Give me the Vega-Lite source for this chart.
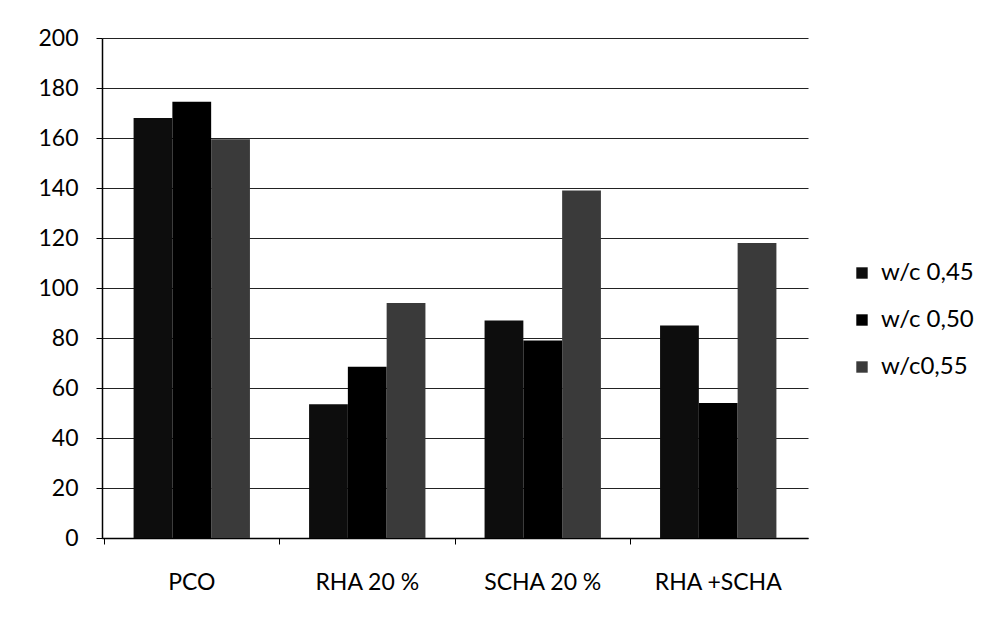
{
  "$schema": "https://vega.github.io/schema/vega-lite/v6.json",
  "width": 706,
  "height": 500,
  "autosize": {"type": "none"},
  "padding": {"left": 102, "top": 38, "right": 176, "bottom": 83},
  "background": "white",
  "config": {
    "view": {"stroke": null},
    "font": "Lato"
  },
  "data": {
    "values": [
      {"cat": "PCO", "series": "w/c 0,45", "value": 168},
      {"cat": "PCO", "series": "w/c 0,50", "value": 174.5},
      {"cat": "PCO", "series": "w/c0,55", "value": 159.5},
      {"cat": "RHA 20 %", "series": "w/c 0,45", "value": 53.5},
      {"cat": "RHA 20 %", "series": "w/c 0,50", "value": 68.5},
      {"cat": "RHA 20 %", "series": "w/c0,55", "value": 94},
      {"cat": "SCHA 20 %", "series": "w/c 0,45", "value": 87},
      {"cat": "SCHA 20 %", "series": "w/c 0,50", "value": 79},
      {"cat": "SCHA 20 %", "series": "w/c0,55", "value": 139},
      {"cat": "RHA +SCHA", "series": "w/c 0,45", "value": 85},
      {"cat": "RHA +SCHA", "series": "w/c 0,50", "value": 54},
      {"cat": "RHA +SCHA", "series": "w/c0,55", "value": 118}
    ]
  },
  "mark": {"type": "bar"},
  "encoding": {
    "x": {
      "field": "cat",
      "type": "nominal",
      "sort": null,
      "title": null,
      "scale": {"paddingInner": 0.337, "paddingOuter": 0.18},
      "axis": {
        "labelAngle": 0,
        "labelFontSize": 23,
        "labelColor": "#000",
        "labelPadding": 27,
        "domainColor": "#000",
        "domainWidth": 1.5,
        "tickColor": "#000",
        "tickSize": 6,
        "bandPosition": -0.252
      }
    },
    "xOffset": {
      "field": "series",
      "type": "nominal",
      "scale": {"paddingInner": 0, "paddingOuter": 0}
    },
    "y": {
      "field": "value",
      "type": "quantitative",
      "title": null,
      "scale": {"domain": [0, 200], "nice": false},
      "axis": {
        "values": [0, 20, 40, 60, 80, 100, 120, 140, 160, 180, 200],
        "labelFontSize": 23,
        "labelColor": "#000",
        "labelPadding": 18,
        "tickSize": 6,
        "tickColor": "#000",
        "domainColor": "#000",
        "domainWidth": 1.5,
        "grid": true,
        "gridColor": "#222",
        "gridWidth": 1
      }
    },
    "color": {
      "field": "series",
      "type": "nominal",
      "title": null,
      "scale": {
        "domain": ["w/c 0,45", "w/c 0,50", "w/c0,55"],
        "range": ["#0d0d0d", "#000000", "#3a3a3a"]
      },
      "legend": {
        "orient": "none",
        "legendX": 748,
        "legendY": 223,
        "symbolType": "square",
        "symbolSize": 130,
        "symbolStrokeWidth": 0,
        "labelFontSize": 24,
        "labelColor": "#000",
        "rowPadding": 23,
        "labelOffset": 7
      }
    }
  }
}
